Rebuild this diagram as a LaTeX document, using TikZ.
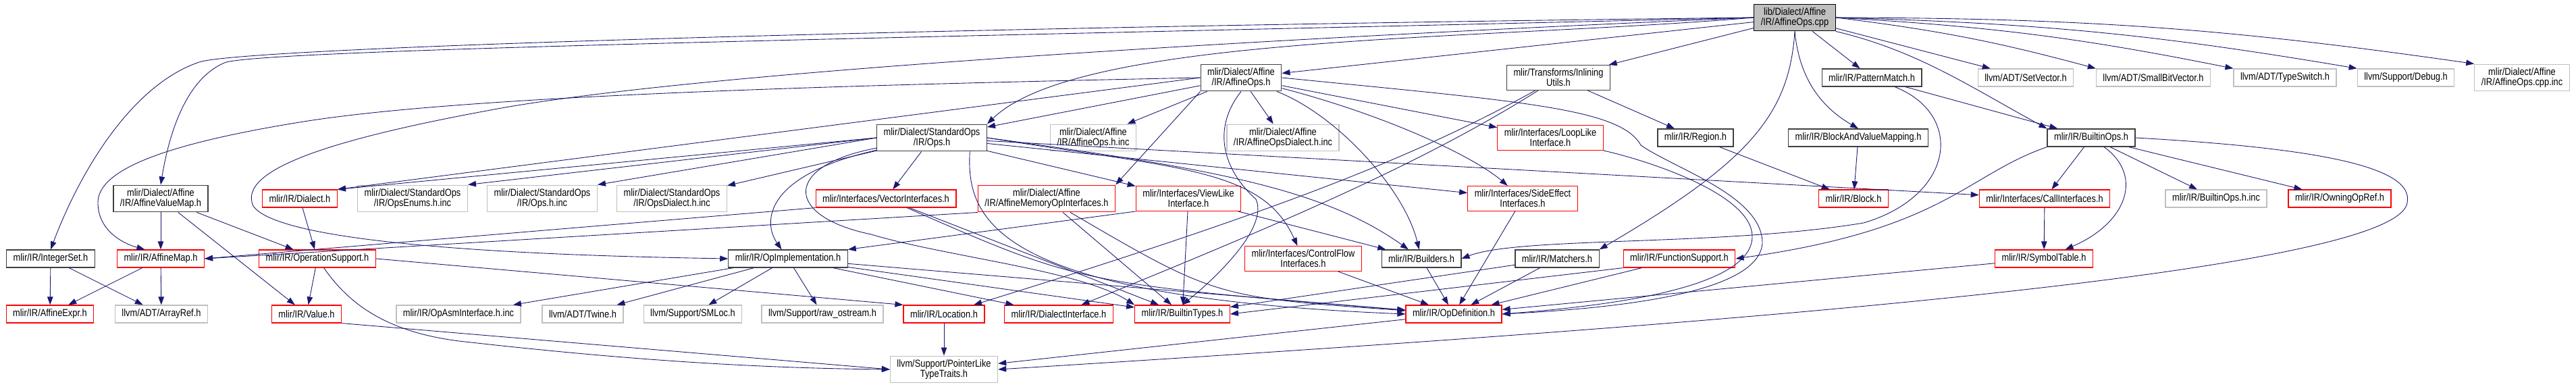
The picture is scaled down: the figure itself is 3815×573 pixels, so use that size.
\documentclass[tikz,border=0pt]{standalone}
\usepackage{fontspec}
\usetikzlibrary{arrows.meta,positioning}
\newfontfamily\dotfont[FakeStretch=0.85]{Liberation Sans}
\definecolor{edgeblue}{RGB}{25,25,112}
\definecolor{boxred}{RGB}{255,0,0}
\definecolor{boxgrey}{RGB}{191,191,191}
\definecolor{boxdark}{RGB}{64,64,64}

\begin{document}
\begin{tikzpicture}[x=0.02cm,y=-0.02cm,
    filebox/.style={rectangle,line width=0.7pt,fill=white,align=center,
      font=\dotfont\fontsize{8.6}{8.6}\selectfont,
      inner xsep=0.2cm,inner ysep=3pt,minimum height=0.52cm},
    docbox/.style={filebox,draw=boxdark},
    redbox/.style={filebox,draw=boxred},
    extbox/.style={filebox,draw=boxgrey},
    rootbox/.style={filebox,draw=black,fill=boxgrey},
    incl/.style={draw=edgeblue,line width=0.5pt,-{Triangle[length=0.24cm,width=0.17cm]}}]
  \useasboundingbox (0,0) rectangle (3815,573);

  \node[rootbox] (cpp) at (2658,26) {lib/Dialect/Affine\\/IR/AffineOps.cpp};

  % first level
  \node[docbox] (aops) at (1838,115) {mlir/Dialect/Affine\\/IR/AffineOps.h};
  \node[docbox] (inlin) at (2308,115) {mlir/Transforms/Inlining\\Utils.h};
  \node[docbox] (patmatch) at (2772,115) {mlir/IR/PatternMatch.h};
  \node[extbox] (setvec) at (3000,115) {llvm/ADT/SetVector.h};
  \node[extbox] (smallbv) at (3189,115) {llvm/ADT/SmallBitVector.h};
  \node[extbox] (typesw) at (3384,115) {llvm/ADT/TypeSwitch.h};
  \node[extbox] (debug) at (3563,115) {llvm/Support/Debug.h};
  \node[extbox] (cppinc) at (3735,115) {mlir/Dialect/Affine\\/IR/AffineOps.cpp.inc};

  \node[docbox] (stdops) at (1380,204) {mlir/Dialect/StandardOps\\/IR/Ops.h};
  \node[extbox] (aopsinc) at (1619,204) {mlir/Dialect/Affine\\/IR/AffineOps.h.inc};
  \node[extbox] (aopsdialinc) at (1900,204) {mlir/Dialect/Affine\\/IR/AffineOpsDialect.h.inc};
  \node[redbox] (looplike) at (2296,204) {mlir/Interfaces/LoopLike\\Interface.h};
  \node[docbox] (region) at (2511,204) {mlir/IR/Region.h};
  \node[docbox] (bvm) at (2752,204) {mlir/IR/BlockAndValueMapping.h};
  \node[docbox] (builtinops) at (3097,204) {mlir/IR/BuiltinOps.h};

  \node[docbox] (avmap) at (238,294) {mlir/Dialect/Affine\\/IR/AffineValueMap.h};
  \node[redbox] (dialect) at (444,294) {mlir/IR/Dialect.h};
  \node[extbox] (opsenums) at (611,294) {mlir/Dialect/StandardOps\\/IR/OpsEnums.h.inc};
  \node[extbox] (opsinc) at (803,294) {mlir/Dialect/StandardOps\\/IR/Ops.h.inc};
  \node[extbox] (opsdialinc) at (995,294) {mlir/Dialect/StandardOps\\/IR/OpsDialect.h.inc};
  \node[redbox] (vecif) at (1312,294) {mlir/Interfaces/VectorInterfaces.h};
  \node[redbox] (memopif) at (1550,294) {mlir/Dialect/Affine\\/IR/AffineMemoryOpInterfaces.h};
  \node[redbox] (viewlike) at (1760,294) {mlir/Interfaces/ViewLike\\Interface.h};
  \node[redbox] (sideeff) at (2255,294) {mlir/Interfaces/SideEffect\\Interfaces.h};
  \node[redbox] (block) at (2745,294) {mlir/IR/Block.h};
  \node[redbox] (callif) at (3028,294) {mlir/Interfaces/CallInterfaces.h};
  \node[extbox] (builtinopsinc) at (3282,294) {mlir/IR/BuiltinOps.h.inc};
  \node[redbox] (owning) at (3465,294) {mlir/IR/OwningOpRef.h};

  \node[docbox] (intset) at (75,383) {mlir/IR/IntegerSet.h};
  \node[redbox] (affmap) at (238,383) {mlir/IR/AffineMap.h};
  \node[redbox] (opsupport) at (470,383) {mlir/IR/OperationSupport.h};
  \node[docbox] (opimpl) at (1167,383) {mlir/IR/OpImplementation.h};
  \node[redbox] (ctrlflow) at (1930,383) {mlir/Interfaces/ControlFlow\\Interfaces.h};
  \node[docbox] (builders) at (2105,383) {mlir/IR/Builders.h};
  \node[docbox] (matchers) at (2306,383) {mlir/IR/Matchers.h};
  \node[redbox] (funcsup) at (2487,383) {mlir/IR/FunctionSupport.h};
  \node[redbox] (symtab) at (3027,383) {mlir/IR/SymbolTable.h};

  \node[redbox] (affexpr) at (74,465) {mlir/IR/AffineExpr.h};
  \node[extbox] (arrayref) at (239,465) {llvm/ADT/ArrayRef.h};
  \node[redbox] (value) at (454,465) {mlir/IR/Value.h};
  \node[extbox] (opasm) at (679,465) {mlir/IR/OpAsmInterface.h.inc};
  \node[extbox] (twine) at (863,465) {llvm/ADT/Twine.h};
  \node[extbox] (smloc) at (1026,465) {llvm/Support/SMLoc.h};
  \node[extbox] (rawos) at (1218,465) {llvm/Support/raw\_ostream.h};
  \node[redbox] (location) at (1398,465) {mlir/IR/Location.h};
  \node[redbox] (dialif) at (1568,465) {mlir/IR/DialectInterface.h};
  \node[redbox] (btypes) at (1751,465) {mlir/IR/BuiltinTypes.h};
  \node[redbox] (opdef) at (2153,465) {mlir/IR/OpDefinition.h};

  \node[extbox] (ptrlike) at (1398,547) {llvm/Support/PointerLike\\TypeTraits.h};

  % plain includes
  \foreach \a/\b in {cpp/aops,cpp/patmatch,cpp/setvec,cpp/inlin,
      aops/stdops,aops/aopsinc,aops/aopsdialinc,aops/looplike,
      inlin/region,patmatch/builtinops,
      stdops/opsdialinc,stdops/vecif,stdops/viewlike,stdops/sideeff,stdops/callif,
      region/block,bvm/block,
      builtinops/callif,builtinops/builtinopsinc,builtinops/owning,callif/symtab,
      avmap/affmap,avmap/value,avmap/opsupport,dialect/opsupport,
      vecif/btypes,memopif/btypes,viewlike/btypes,viewlike/builders,
      sideeff/opdef,ctrlflow/opdef,builders/opdef,matchers/opdef,matchers/btypes,
      funcsup/opdef,symtab/opdef,
      intset/affexpr,intset/arrayref,affmap/affexpr,affmap/arrayref,
      opsupport/value,opimpl/opasm,opimpl/twine,opimpl/smloc,opimpl/rawos,
      opimpl/dialif,opimpl/btypes,opimpl/opdef,location/ptrlike,opdef/ptrlike}
    \draw[incl] (\a) -- (\b);
  \foreach \b in {smallbv,typesw,debug,cppinc}
    \draw[incl] (cpp.east) to[bend left=4] (\b.north west);

  \draw[incl] (aops.west) -- (dialect.north east);
  \draw[incl] (aops.south west) -- (memopif.north east);
  \draw[incl] (stdops.west) -- (dialect.north east);
  \draw[incl] (stdops.west) -- (opsenums.north east);
  \draw[incl] (stdops.west) -- (opsinc.north east);
  \draw[incl] (vecif.south west) -- (affmap.east);
  \draw[incl] (memopif.south west) -- (affmap.east);
  \draw[incl] (viewlike.south west) -- (opimpl.north east);
  \draw[incl] (funcsup.south west) -- (btypes.east);
  \draw[incl] (opsupport.east) -- (location.north west);
  \draw[incl] (value.south east) -- (ptrlike.west);

  % long curved includes
  \draw[incl] (cpp.west) .. controls (1400,40) and (360,70) .. (295,92)
    .. controls (197,125) and (120,250) .. (intset.north);
  \draw[incl] (cpp.west) .. controls (1400,55) and (420,72) .. (335,92)
    .. controls (275,115) and (250,200) .. (avmap.north);
  \draw[incl] (cpp.west) .. controls (2200,60) and (1600,50) .. (stdops.north east);
  \draw[incl] (cpp.west) .. controls (1800,60) and (1000,110) .. (721,164)
    .. controls (500,205) and (350,250) .. (375,305)
    .. controls (420,370) and (900,380) .. (opimpl.west);
  \draw[incl] (cpp.south) .. controls (2650,170) and (2590,240) .. (matchers.north east);
  \draw[incl] (cpp.south) .. controls (2665,120) and (2700,160) .. (bvm.north);
  \draw[incl] (cpp.south east) .. controls (2840,75) and (2920,130) .. (builtinops.north west);

  \draw[incl] (aops.west) .. controls (1300,125) and (700,140) .. (450,180)
    .. controls (250,212) and (145,250) .. (145,300)
    .. controls (145,340) and (180,360) .. (affmap.150);
  \draw[incl] (aops) .. controls (2050,170) and (2180,230) .. (sideeff);
  \draw[incl] (aops.east) .. controls (2250,150) and (2400,160) .. (2430,215)
    .. controls (2480,250) and (2610,290) .. (2610,360)
    .. controls (2605,430) and (2420,455) .. (opdef.east);
  \draw[incl] (aops.south) .. controls (1795,190) and (1810,250) .. (1860,295)
    .. controls (1880,340) and (1790,420) .. (btypes.north);
  \draw[incl] (aops) .. controls (1980,170) and (2080,280) .. (builders);
  \draw[incl] (looplike.south east) .. controls (2450,240) and (2595,290) .. (2595,350)
    .. controls (2595,420) and (2420,450) .. (opdef.east);

  \draw[incl] (inlin) .. controls (2100,230) and (1900,310) .. (location);
  \draw[incl] (inlin) .. controls (2110,240) and (1900,330) .. (dialif);
  \draw[incl] (patmatch) .. controls (2910,170) and (2895,290) .. (2760,330)
    .. controls (2550,365) and (2250,350) .. (builders.east);

  \draw[incl] (stdops) .. controls (1130,260) and (1130,330) .. (opimpl);
  \draw[incl] (stdops) .. controls (1160,245) and (1160,320) .. (1290,347)
    .. controls (1400,380) and (1600,400) .. (btypes.north west);
  \draw[incl] (stdops.east) .. controls (1750,250) and (1870,250) .. (ctrlflow);
  \draw[incl] (stdops.east) .. controls (1800,250) and (1960,280) .. (builders);
  \draw[incl] (stdops.-20) .. controls (1430,330) and (1480,440) .. (opdef.west);
  \draw[incl] (vecif) .. controls (1600,420) .. (opdef);
  \draw[incl] (memopif) .. controls (1800,440) .. (opdef);

  \draw[incl] (builtinops) .. controls (3175,260) and (3150,330) .. (symtab);
  \draw[incl] (builtinops.south west) .. controls (2910,260) and (2880,340) .. (funcsup.east);
  \draw[incl] (builtinops.east) .. controls (3450,220) and (3575,250) .. (3565,300)
    .. controls (3550,410) and (2400,490) .. (ptrlike.east);
  \draw[incl] (opsupport) .. controls (510,440) and (560,490) .. (680,505)
    .. controls (900,530) and (1100,545) .. (ptrlike.west);
\end{tikzpicture}
\end{document}
